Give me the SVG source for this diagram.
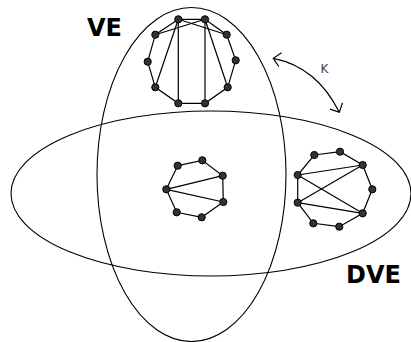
<svg xmlns="http://www.w3.org/2000/svg" width="411" height="342" viewBox="0 0 411 342">
<style>
.set{fill:none;stroke:#000;stroke-width:1.1}
.e{stroke:#000;stroke-width:1.2;fill:none}
.n{fill:#333;stroke:#000;stroke-width:1}
.big{font-family:"DejaVu Sans",sans-serif;font-weight:bold;font-size:24px;fill:#000}
.lbl{font-family:"DejaVu Sans",sans-serif;font-size:12px;fill:#444}
</style>
<defs>
<marker id="ah" markerUnits="userSpaceOnUse" viewBox="-10 -10 12 20" refX="0" refY="0" markerWidth="12" markerHeight="20" orient="auto-start-reverse">
<path d="M-7,-7 L0,0 L-7,7" fill="none" stroke="#000" stroke-width="1.2"/>
</marker>
</defs>
<rect width="411" height="342" fill="#fff"/>
<g id="VE">
<ellipse class="set" cx="191.5" cy="174.5" rx="94.5" ry="167"/>
<text class="big" x="87" y="36">VE</text>
</g>
<g id="DVE">
<ellipse class="set" cx="211" cy="193.5" rx="200" ry="82.5"/>
<text class="big" x="346" y="282.5">DVE</text>
</g>
<g id="connectors">
<path d="M273.3,58.3 Q317,67 339.3,112.3" fill="none" stroke="#000" stroke-width="1.2" marker-start="url(#ah)" marker-end="url(#ah)"/>
<text class="lbl" x="320.5" y="72.7">K</text>
</g>
<g id="graph-top">
<g class="e">
<polygon points="178.3,19.3 205,19.3 226.7,34.7 235.7,60.3 227.7,87.3 205,103.3 178.3,103.3 155.3,87.3 147.7,61.7 155.3,34.7"/>
<line x1="178.3" y1="19.3" x2="226.7" y2="34.7"/>
<line x1="205" y1="19.3" x2="155.3" y2="34.7"/>
<line x1="178.3" y1="19.3" x2="155.3" y2="87.3"/>
<line x1="178.3" y1="19.3" x2="178.3" y2="103.3"/>
<line x1="205" y1="19.3" x2="205" y2="103.3"/>
<line x1="205" y1="19.3" x2="227.7" y2="87.3"/>
</g>
<g class="n">
<circle cx="178.3" cy="19.3" r="3.6"/><circle cx="205" cy="19.3" r="3.6"/><circle cx="226.7" cy="34.7" r="3.6"/><circle cx="235.7" cy="60.3" r="3.6"/><circle cx="227.7" cy="87.3" r="3.6"/><circle cx="205" cy="103.3" r="3.6"/><circle cx="178.3" cy="103.3" r="3.6"/><circle cx="155.3" cy="87.3" r="3.6"/><circle cx="147.7" cy="61.7" r="3.6"/><circle cx="155.3" cy="34.7" r="3.6"/>
</g>
</g>
<g id="graph-center">
<g class="e">
<polygon points="177.7,165.7 202.3,160.3 222.7,175.7 223.3,202 201.7,217.3 176.7,212.3 166.3,189.3"/>
<line x1="166.3" y1="189.3" x2="222.7" y2="175.7"/>
<line x1="166.3" y1="189.3" x2="223.3" y2="202"/>
</g>
<g class="n">
<circle cx="177.7" cy="165.7" r="3.6"/><circle cx="202.3" cy="160.3" r="3.6"/><circle cx="222.7" cy="175.7" r="3.6"/><circle cx="223.3" cy="202" r="3.6"/><circle cx="201.7" cy="217.3" r="3.6"/><circle cx="176.7" cy="212.3" r="3.6"/><circle cx="166.3" cy="189.3" r="3.6"/>
</g>
</g>
<g id="graph-right">
<g class="e">
<polygon points="314.3,155 340,151.7 362.7,165 372.3,189.3 362.7,213.3 339.3,226.7 313.3,223.3 297.7,202.7 297.7,175"/>
<line x1="297.7" y1="175" x2="362.7" y2="165"/>
<line x1="297.7" y1="175" x2="362.7" y2="213.3"/>
<line x1="297.7" y1="202.7" x2="362.7" y2="165"/>
<line x1="297.7" y1="202.7" x2="362.7" y2="213.3"/>
</g>
<g class="n">
<circle cx="314.3" cy="155" r="3.6"/><circle cx="340" cy="151.7" r="3.6"/><circle cx="362.7" cy="165" r="3.6"/><circle cx="372.3" cy="189.3" r="3.6"/><circle cx="362.7" cy="213.3" r="3.6"/><circle cx="339.3" cy="226.7" r="3.6"/><circle cx="313.3" cy="223.3" r="3.6"/><circle cx="297.7" cy="202.7" r="3.6"/><circle cx="297.7" cy="175" r="3.6"/>
</g>
</g>
</svg>
